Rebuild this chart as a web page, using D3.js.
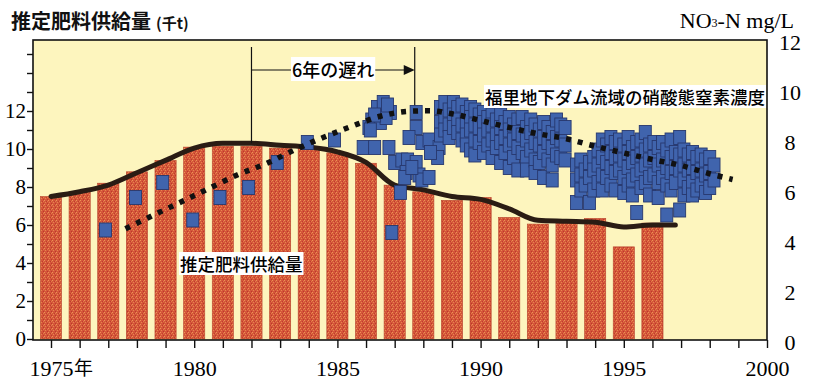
<!DOCTYPE html>
<html>
<head>
<meta charset="utf-8">
<script src="https://cdn.jsdelivr.net/npm/d3@7"></script>
<style>
  body { margin: 0; background: #fff; }
  svg { display: block; }
</style>
</head>
<body>
<script>
// estimated fertilizer supply (thousand t), one bar per year
const years = [1975, 1976, 1977, 1978, 1979, 1980, 1981, 1982, 1983, 1984, 1985,
  1986, 1987, 1988, 1989, 1990, 1991, 1992, 1993, 1994, 1995, 1996];
const supply = [7.5, 7.75, 8.2, 8.8, 9.4, 10.1, 10.15, 10.15, 10.05, 10.05, 9.8,
  9.25, 8.1, 7.75, 7.3, 7.45, 6.4, 6.05, 6.2, 6.35, 4.85, 6.1];

// smoothed supply curve (left axis)
const supplyTrendYears = [1975, 1976, 1977, 1978, 1979, 1980, 1981, 1982, 1983, 1984, 1985,
  1986, 1987, 1988, 1989, 1990, 1991, 1992, 1993, 1994, 1995, 1996, 1996.8];
const supplyTrend = [7.5, 7.75, 8.1, 8.75, 9.4, 10.05, 10.3, 10.3, 10.2, 10.1, 9.85,
  9.3, 8.1, 7.85, 7.5, 7.35, 6.85, 6.25, 6.2, 6.15, 5.9, 6.0, 6.0];

// smoothed nitrate curve (right axis, mg/L)
const nitrateTrendYears = [1977.6, 1978.5, 1979.5, 1980.5, 1981.5, 1982.5, 1983.5, 1984.5,
  1985.5, 1986.5, 1987.5, 1988.2, 1989, 1990, 1991, 1992, 1993, 1994, 1995, 1996,
  1997, 1998, 1998.8];
const nitrateTrend = [4.45, 4.95, 5.5, 6.05, 6.6, 7.05, 7.6, 8.1,
  8.55, 8.95, 9.15, 9.17, 9.05, 8.78, 8.5, 8.25, 8.05, 7.75, 7.48, 7.22,
  6.98, 6.65, 6.42];

// observed NO3-N at Fukuzato dam basin: [year, mg/L]
const nitrateObs = [
  [1976.9, 4.4], [1977.95, 5.7], [1978.9, 6.3], [1979.95, 4.8], [1980.9, 5.7],
  [1981.9, 6.1], [1982.9, 7.1], [1983.95, 7.9], [1984.9, 8.0],
  [1985.9, 7.7], [1986.3, 7.7], [1986.8, 7.7],
  [1986.1, 8.5], [1986.2, 8.8], [1986.4, 9.3], [1986.6, 9.5], [1986.5, 8.7],
  [1986.85, 9.1], [1986.7, 8.9], [1986.3, 9.0], [1986.75, 9.4], [1986.15, 8.4],
  [1986.9, 4.3], [1987.2, 5.9],
  [1987.0, 7.1], [1987.25, 7.2], [1987.45, 7.2], [1987.75, 7.1], [1987.4, 6.7],
  [1987.35, 6.5], [1987.85, 6.6], [1987.95, 6.4], [1988.2, 6.5], [1987.6, 6.9],
  [1987.75, 9.1], [1987.75, 8.5], [1987.5, 8.1], [1987.95, 7.9], [1988.2, 8.0],
  [1988.55, 7.7], [1988.5, 7.3], [1988.25, 7.5],
  [1988.6, 9.3], [1988.6, 8.7], [1988.6, 8.2],
  [1988.75, 9.5], [1988.75, 8.9], [1988.75, 8.4],
  [1988.9, 9.2], [1988.9, 8.6], [1988.9, 8.1],
  [1989.05, 9.5], [1989.05, 9.0], [1989.05, 8.5],
  [1989.2, 9.3], [1989.2, 8.8], [1989.2, 8.3],
  [1989.35, 9.4], [1989.35, 8.6], [1989.35, 8.0],
  [1989.5, 9.1], [1989.5, 8.7], [1989.5, 8.2], [1989.5, 7.8],
  [1989.65, 9.3], [1989.65, 8.9], [1989.65, 8.4], [1989.65, 7.6],
  [1989.8, 9.2], [1989.8, 8.6], [1989.8, 8.0], [1989.8, 7.4],
  [1989.95, 9.0], [1989.95, 8.5], [1989.95, 7.9],
  [1990.1, 9.1], [1990.1, 8.7], [1990.1, 8.2], [1990.1, 7.5],
  [1990.25, 8.9], [1990.25, 8.4], [1990.25, 7.8],
  [1990.4, 9.0], [1990.4, 8.6], [1990.4, 8.0], [1990.4, 7.3],
  [1990.55, 8.8], [1990.55, 8.2], [1990.55, 7.7],
  [1990.7, 9.0], [1990.7, 8.5], [1990.7, 7.9], [1990.7, 7.1],
  [1990.85, 8.7], [1990.85, 8.1], [1990.85, 7.5],
  [1991.0, 8.9], [1991.0, 8.4], [1991.0, 7.8], [1991.0, 6.9],
  [1991.15, 8.6], [1991.15, 8.0], [1991.15, 7.3],
  [1991.3, 8.8], [1991.3, 8.3], [1991.3, 7.7], [1991.3, 6.8],
  [1991.45, 8.9], [1991.45, 8.2], [1991.45, 7.5],
  [1991.6, 8.5], [1991.6, 8.0], [1991.6, 7.3], [1991.6, 6.8],
  [1991.75, 8.8], [1991.75, 8.3], [1991.75, 7.6],
  [1991.9, 8.6], [1991.9, 7.9], [1991.9, 7.2], [1991.9, 6.7],
  [1992.05, 8.4], [1992.05, 7.8], [1992.05, 7.1],
  [1992.2, 8.7], [1992.2, 8.1], [1992.2, 7.5], [1992.2, 6.5],
  [1992.35, 8.5], [1992.35, 7.9], [1992.35, 7.2],
  [1992.5, 8.3], [1992.5, 7.7], [1992.5, 7.0], [1992.5, 6.4],
  [1992.65, 8.8], [1992.65, 8.1], [1992.65, 7.4],
  [1992.8, 8.6], [1992.8, 8.0], [1992.8, 7.3],
  [1992.95, 8.5], [1992.95, 7.8], [1992.95, 7.2],
  [1993.35, 7.0], [1993.35, 6.4], [1993.35, 5.5],
  [1993.5, 7.2], [1993.5, 6.6], [1993.5, 6.0],
  [1993.65, 6.8], [1993.65, 6.2],
  [1993.8, 7.1], [1993.8, 6.5], [1993.8, 5.5],
  [1993.95, 7.3], [1993.95, 6.8], [1993.95, 6.0],
  [1994.1, 7.6], [1994.1, 7.0], [1994.1, 6.3],
  [1994.25, 8.0], [1994.25, 7.3], [1994.25, 6.6], [1994.25, 6.0],
  [1994.4, 7.8], [1994.4, 7.1], [1994.4, 6.5],
  [1994.55, 8.1], [1994.55, 7.5], [1994.55, 6.9], [1994.55, 6.2],
  [1994.7, 7.9], [1994.7, 7.3], [1994.7, 6.7], [1994.7, 6.0],
  [1994.85, 8.0], [1994.85, 7.4], [1994.85, 6.8],
  [1995.0, 7.8], [1995.0, 7.2], [1995.0, 6.5], [1995.0, 5.9],
  [1995.15, 8.1], [1995.15, 7.5], [1995.15, 6.9], [1995.15, 6.2],
  [1995.3, 7.7], [1995.3, 7.1], [1995.3, 6.4], [1995.3, 5.8],
  [1995.45, 7.9], [1995.45, 7.3], [1995.45, 6.6], [1995.45, 5.1],
  [1995.6, 8.0], [1995.6, 7.4], [1995.6, 6.8], [1995.6, 6.1],
  [1995.75, 8.3], [1995.75, 7.6], [1995.75, 7.0], [1995.75, 6.3],
  [1995.9, 7.8], [1995.9, 7.2], [1995.9, 6.5], [1995.9, 5.8],
  [1996.05, 7.9], [1996.05, 7.3], [1996.05, 6.6],
  [1996.2, 7.7], [1996.2, 7.0], [1996.2, 6.3], [1996.2, 5.7],
  [1996.35, 7.9], [1996.35, 7.2], [1996.35, 6.5],
  [1996.5, 7.6], [1996.5, 6.9], [1996.5, 6.2], [1996.5, 5.0],
  [1996.65, 8.0], [1996.65, 7.3], [1996.65, 6.7], [1996.65, 6.0],
  [1996.8, 7.5], [1996.8, 6.9], [1996.8, 6.3],
  [1996.95, 8.1], [1996.95, 7.4], [1996.95, 6.8], [1996.95, 5.2],
  [1997.1, 7.6], [1997.1, 7.0], [1997.1, 6.4], [1997.1, 5.8],
  [1997.25, 7.4], [1997.25, 6.8], [1997.25, 6.1],
  [1997.4, 7.5], [1997.4, 6.9], [1997.4, 6.3], [1997.4, 5.8],
  [1997.55, 7.3], [1997.55, 6.7], [1997.55, 6.0],
  [1997.7, 7.4], [1997.7, 6.8], [1997.7, 6.2],
  [1997.85, 7.2], [1997.85, 6.6], [1997.85, 5.9],
  [1998.0, 7.3], [1998.0, 6.7], [1998.0, 6.1],
  [1998.15, 7.0], [1998.15, 6.4]
];

const leftTickValues = [0, 1, 2, 3, 4, 5, 6, 7, 8, 9, 10, 11, 12, 13, 14, 15];
const leftTickLabels = [0, 2, 4, 6, 8, 10, 12];
const rightTickValues = [0, 2, 4, 6, 8, 10, 12];
const xTickValues = [1975, 1976, 1977, 1978, 1979, 1980, 1981, 1982, 1983, 1984, 1985,
  1986, 1987, 1988, 1989, 1990, 1991, 1992, 1993, 1994, 1995, 1996, 1997, 1998, 1999, 2000];
const xTickLabels = [1975, 1980, 1985, 1990, 1995, 2000];
const delayYears = [1982, 1987.7];

const width = 814;
const height = 380;
const plot = { left: 33, right: 767, top: 40, bottom: 340 };

const serif = '"Liberation Serif", "DejaVu Serif", serif';
const cjk = '"Noto Sans CJK JP", "Noto Sans", sans-serif';

const svg = d3.select('body').append('svg')
  .attr('width', width)
  .attr('height', height);

const defs = svg.append('defs');
const pat = defs.append('pattern')
  .attr('id', 'speckle')
  .attr('width', 4).attr('height', 4)
  .attr('patternUnits', 'userSpaceOnUse');
pat.append('rect').attr('width', 4).attr('height', 4).attr('fill', '#d4563a');
pat.append('rect').attr('x', 0).attr('y', 0).attr('width', 1).attr('height', 1).attr('fill', '#ec9454');
pat.append('rect').attr('x', 2).attr('y', 1).attr('width', 1).attr('height', 1).attr('fill', '#c03c2c');
pat.append('rect').attr('x', 1).attr('y', 2).attr('width', 1).attr('height', 1).attr('fill', '#e8864d');
pat.append('rect').attr('x', 3).attr('y', 3).attr('width', 1).attr('height', 1).attr('fill', '#bd3929');
pat.append('rect').attr('x', 3).attr('y', 1).attr('width', 1).attr('height', 1).attr('fill', '#e27a48');

const x = d3.scaleLinear().domain([1975, 2000]).range([51, plot.right]);
const yL = d3.scaleLinear().domain([0, 12]).range([339, 111]);
const yR = d3.scaleLinear().domain([0, 12]).range([plot.bottom, plot.top]);

// background
svg.append('rect')
  .attr('x', plot.left).attr('y', plot.top)
  .attr('width', plot.right - plot.left)
  .attr('height', plot.bottom - plot.top)
  .attr('fill', '#fdf5be');

// bars
const barW = (x(1976) - x(1975)) * 0.74;
svg.append('g').selectAll('rect')
  .data(years)
  .join('rect')
  .attr('x', (d) => x(d) - barW / 2)
  .attr('y', (d, i) => yL(supply[i]))
  .attr('width', barW)
  .attr('height', (d, i) => yL(0) - yL(supply[i]))
  .attr('fill', 'url(#speckle)')
  .attr('stroke', '#b8452e')
  .attr('stroke-width', 0.6);

// supply trend
const trendLine = d3.line()
  .x((d) => x(d[0]))
  .y((d) => yL(d[1]))
  .curve(d3.curveMonotoneX);
svg.append('path')
  .attr('d', trendLine(supplyTrendYears.map((yr, i) => [yr, supplyTrend[i]])))
  .attr('fill', 'none')
  .attr('stroke', '#2a1c14')
  .attr('stroke-width', 5)
  .attr('stroke-linecap', 'round');

// annotation verticals
svg.append('line')
  .attr('x1', x(delayYears[0])).attr('x2', x(delayYears[0]))
  .attr('y1', plot.top + 7).attr('y2', yL(supplyTrend[7]))
  .attr('stroke', '#111').attr('stroke-width', 1.2);
svg.append('line')
  .attr('x1', x(delayYears[1])).attr('x2', x(delayYears[1]))
  .attr('y1', plot.top + 7).attr('y2', yR(9.16))
  .attr('stroke', '#111').attr('stroke-width', 1.2);

// observed squares
const sqW = 12;
const sqH = 14;
svg.append('g').selectAll('rect')
  .data(nitrateObs)
  .join('rect')
  .attr('x', (d) => x(d[0]) - sqW / 2)
  .attr('y', (d) => yR(d[1]) - sqH / 2)
  .attr('width', sqW)
  .attr('height', sqH)
  .attr('fill', '#4064ad')
  .attr('stroke', '#27386e')
  .attr('stroke-width', 0.9);

// nitrate trend (dotted)
const nitLine = d3.line()
  .x((d) => x(d[0]))
  .y((d) => yR(d[1]))
  .curve(d3.curveMonotoneX);
svg.append('path')
  .attr('d', nitLine(nitrateTrendYears.map((yr, i) => [yr, nitrateTrend[i]])))
  .attr('fill', 'none')
  .attr('stroke', '#111')
  .attr('stroke-width', 5.5)
  .attr('stroke-dasharray', '5 7');

// frame
svg.append('rect')
  .attr('x', plot.left).attr('y', plot.top)
  .attr('width', plot.right - plot.left)
  .attr('height', plot.bottom - plot.top)
  .attr('fill', 'none')
  .attr('stroke', '#111')
  .attr('stroke-width', 1.6);

// left axis
const leftAxis = svg.append('g')
  .attr('transform', `translate(${plot.left},0)`)
  .call(d3.axisLeft(yL)
    .tickValues(leftTickValues)
    .tickSize(6)
    .tickPadding(1)
    .tickFormat((d) => (leftTickLabels.includes(d) ? d : '')));
leftAxis.select('.domain').remove();
leftAxis.selectAll('line').attr('stroke', '#111').attr('stroke-width', 1.4);
leftAxis.selectAll('text')
  .attr('font-family', serif)
  .attr('font-size', 21)
  .attr('fill', '#000');

// bottom axis
const bottomAxis = svg.append('g')
  .attr('transform', `translate(0,${plot.bottom})`)
  .call(d3.axisBottom(x)
    .tickValues(xTickValues)
    .tickSize(8)
    .tickPadding(12)
    .tickFormat((d) => (xTickLabels.includes(d) ? d : '')));
bottomAxis.select('.domain').remove();
bottomAxis.selectAll('line').attr('stroke', '#111').attr('stroke-width', 1.4);
bottomAxis.selectAll('text')
  .attr('font-family', serif)
  .attr('font-size', 22)
  .attr('fill', '#000');

// 年 after first label
const firstLabel = bottomAxis.selectAll('.tick text').filter((d) => d === xTickLabels[0]);
const flBox = firstLabel.node().getBBox();
bottomAxis.append('text')
  .attr('x', x(xTickLabels[0]) + flBox.width / 2 + 1)
  .attr('y', +firstLabel.attr('y'))
  .attr('dy', '0.78em')
  .attr('text-anchor', 'start')
  .attr('font-family', cjk)
  .attr('font-size', 19)
  .attr('fill', '#000')
  .text('年');

// right axis
const rightAxis = svg.append('g')
  .attr('transform', `translate(${plot.right},0)`)
  .call(d3.axisRight(yR)
    .tickValues(rightTickValues)
    .tickSize(0)
    .tickPadding(23));
rightAxis.select('.domain').remove();
rightAxis.selectAll('text')
  .attr('text-anchor', 'middle')
  .attr('dy', '0.42em')
  .attr('font-family', serif)
  .attr('font-size', 22)
  .attr('fill', '#000');

// titles
const title = svg.append('text')
  .attr('x', 11).attr('y', 29)
  .attr('font-family', cjk)
  .attr('font-weight', 700)
  .attr('font-size', 20)
  .attr('fill', '#111');
title.append('tspan').text('推定肥料供給量');
title.append('tspan').attr('dx', 5).attr('font-size', 15).text('(千t)');

const unit = svg.append('text')
  .attr('x', 794).attr('y', 28)
  .attr('text-anchor', 'end')
  .attr('font-family', serif)
  .attr('font-size', 22)
  .attr('fill', '#000');
unit.append('tspan').text('NO');
unit.append('tspan').attr('font-size', 12).attr('dy', -1).text('3');
unit.append('tspan').attr('dy', 1).text('-N mg/L');

// labels with white boxes
function boxLabel(tx, ty, anchor, size, str) {
  const g = svg.append('g');
  const t = g.append('text')
    .attr('x', tx).attr('y', ty)
    .attr('text-anchor', anchor)
    .attr('font-family', cjk)
    .attr('font-size', size)
    .attr('font-weight', 500)
    .attr('fill', '#000')
    .text(str);
  const b = t.node().getBBox();
  g.insert('rect', 'text')
    .attr('x', b.x - 1).attr('y', b.y + 1)
    .attr('width', b.width + 2).attr('height', b.height - 2)
    .attr('fill', '#fff');
  return g;
}

// delay arrow
const arrowY = 70;
svg.append('line')
  .attr('x1', x(delayYears[0])).attr('x2', x(delayYears[1]) - 8)
  .attr('y1', arrowY).attr('y2', arrowY)
  .attr('stroke', '#111').attr('stroke-width', 1.2);
svg.append('path')
  .attr('d', `M${x(delayYears[1])},${arrowY} l-11,-5 l0,10 z`)
  .attr('fill', '#111');
boxLabel((x(delayYears[0]) + x(delayYears[1])) / 2, 77, 'middle', 18, '6年の遅れ');

boxLabel(180, 271, 'start', 17.5, '推定肥料供給量');
boxLabel(765, 104, 'end', 17.5, '福里地下ダム流域の硝酸態窒素濃度');
</script>
</body>
</html>
